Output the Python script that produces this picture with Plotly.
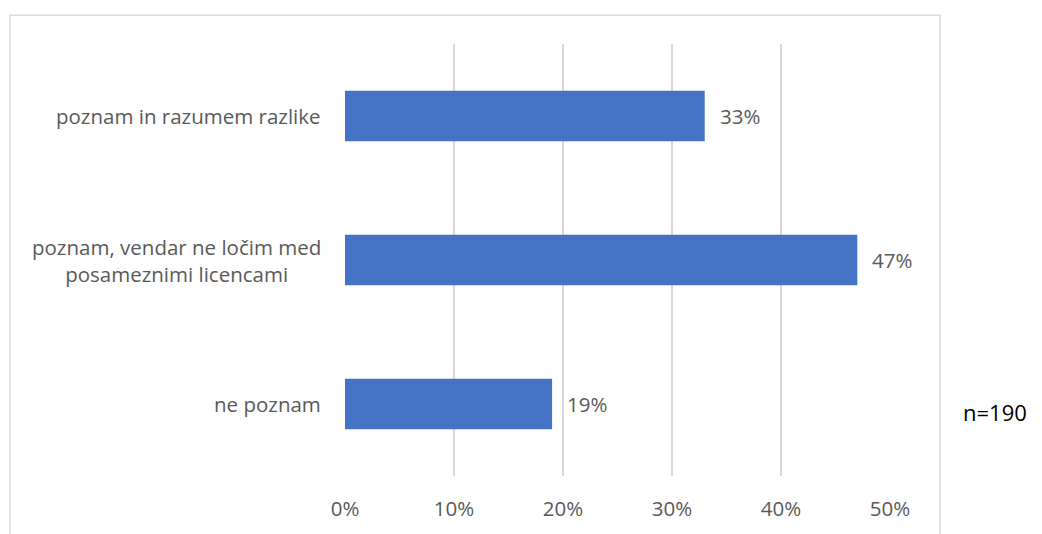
import plotly.graph_objects as go

categories = ["poznam in razumem razlike",
              "poznam, vendar ne ločim med<br>posameznimi licencami",
              "ne poznam"]
values = [0.33, 0.47, 0.19]
value_labels = ["33%", "47%", "19%"]
tick_vals = [0, 0.1, 0.2, 0.3, 0.4, 0.5]
tick_text = ["0%", "10%", "20%", "30%", "40%", "50%"]
note = "n=190"

# page body has an 8px margin; figure coordinates are page coordinates - 8
W, H = 1034, 526
L, R, T, B = 337, 152, 36, 55
pw, ph = W - L - R, H - T - B

FONT = "Open Sans"
GREY = "#595959"
FS = 20.5

fig = go.Figure()
fig.add_trace(go.Bar(
    y=categories, x=values, orientation="h",
    marker=dict(color="#4472C4", line=dict(width=0)),
    width=0.35, hoverinfo="skip",
))

ann = []
for c in categories:
    ann.append(dict(x=0, xref="paper", y=c, yref="y", text=c, showarrow=False,
                    xanchor="right", yanchor="middle", align="center", xshift=-22,
                    font=dict(family=FONT, size=FS, color=GREY)))
for c, v, t in zip(categories, values, value_labels):
    ann.append(dict(x=v, xref="x", y=c, yref="y", text=t, showarrow=False,
                    xanchor="left", yanchor="middle", xshift=13,
                    font=dict(family=FONT, size=FS, color=GREY)))
ann.append(dict(x=(987 - L) / pw, xref="paper", y=(H - B - 407) / ph, yref="paper",
                text=note, showarrow=False, xanchor="center", yanchor="middle",
                font=dict(family=FONT, size=22, color="#000000")))

fig.update_layout(
    width=W, height=H,
    margin=dict(l=L, r=R, t=T, b=B, pad=0),
    paper_bgcolor="white", plot_bgcolor="white",
    showlegend=False,
    annotations=ann,
    xaxis=dict(range=[0, 0.5], tickvals=tick_vals, ticktext=tick_text,
               showgrid=True, gridcolor="#d9d9d9", gridwidth=1.5,
               zeroline=False, showline=False, ticks="",
               ticklabelstandoff=18,
               tickfont=dict(family=FONT, size=FS, color=GREY), fixedrange=True),
    yaxis=dict(categoryorder="array", categoryarray=categories[::-1],
               range=[-0.5, 2.5], showticklabels=False, showgrid=False,
               zeroline=False, showline=False, ticks="", fixedrange=True),
    shapes=[dict(type="rect", xref="paper", yref="paper",
                 x0=(2 - L) / pw, x1=(932 - L) / pw,
                 y0=(H - B - 545) / ph, y1=(H - B - 7) / ph,
                 line=dict(color="#d9d9d9", width=1.5), fillcolor="rgba(0,0,0,0)",
                 layer="below")],
)

fig.write_html("out.html")
